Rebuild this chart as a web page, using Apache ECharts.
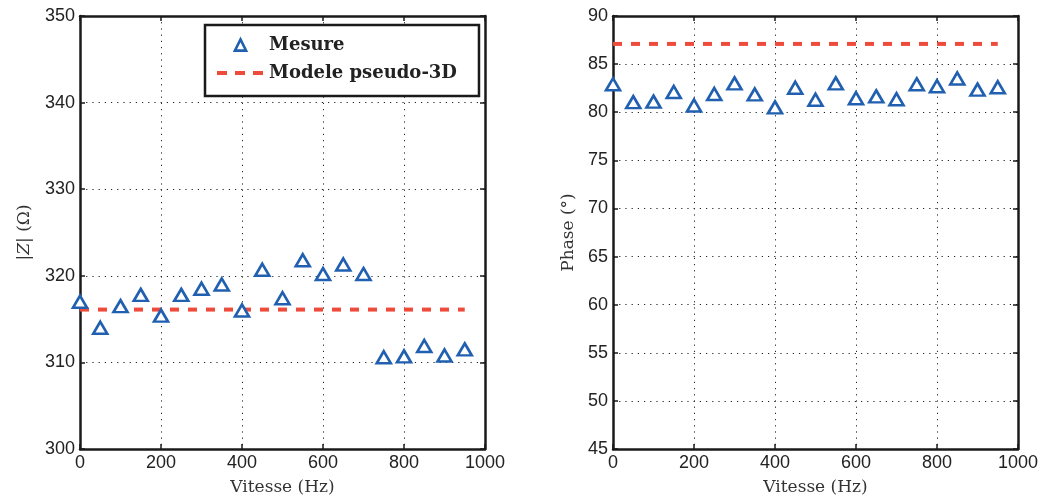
<!DOCTYPE html>
<html><head><meta charset="utf-8">
<script src="https://cdn.jsdelivr.net/npm/echarts@6/dist/echarts.min.js"></script>
<style>html,body{margin:0;padding:0;background:#fff}#c{width:1048px;height:501px}</style>
</head><body><div id="c"></div>
<script>
const freq = [0,50,100,150,200,250,300,350,400,450,500,550,600,650,700,750,800,850,900,950];
const zMesure = [317.0,314.0,316.5,317.8,315.4,317.8,318.5,319.0,316.0,320.7,317.4,321.8,320.2,321.3,320.2,310.6,310.7,311.9,310.8,311.5];
const zModele = 316.1;
const phaseMesure = [82.9,81.05,81.1,82.1,80.7,81.9,83.0,81.85,80.5,82.55,81.3,83.0,81.45,81.65,81.35,82.9,82.7,83.5,82.35,82.6];
const phaseModele = 87.1;
const modeleX = [0, 950];
const xTitle = 'Vitesse (Hz)';

const blue = '#2160b0', red = '#ef4b3c';
const serif = '"DejaVu Serif", "Liberation Serif", serif';
const sans = '"Liberation Sans", Arial, sans-serif';

function pairs(xs, ys){ return xs.map((x,i)=>[x, ys[i]]); }
function flat(xs, v){ return xs.map(x=>[x, v]); }

const gridLine = {show:true, lineStyle:{color:'#222', width:1, type:[1.2,5]}};
function xAx(g){
  return [{
    type:'value', gridIndex:g, min:0, max:1000, interval:200, position:'bottom',
    axisLine:{show:true, onZero:false, lineStyle:{color:'#1a1a1a', width:2.5}},
    axisTick:{show:true, inside:true, length:5, lineStyle:{color:'#1a1a1a', width:1.5}},
    axisLabel:{color:'#222', fontFamily:sans, fontSize:18, margin:5, formatter:v=>String(v)},
    splitLine:gridLine,
    name:xTitle, nameLocation:'middle', nameGap:30,
    nameTextStyle:{fontFamily:serif, fontSize:17, color:'#333'}
  },{
    type:'value', gridIndex:g, min:0, max:1000, interval:200, position:'top',
    axisLine:{show:true, onZero:false, lineStyle:{color:'#1a1a1a', width:2.5}},
    axisTick:{show:true, inside:true, length:5, lineStyle:{color:'#1a1a1a', width:1.5}},
    axisLabel:{show:false}, splitLine:{show:false}
  }];
}
function yAx(g, min, max, interval, name){
  return [{
    type:'value', gridIndex:g, min:min, max:max, interval:interval, position:'left',
    axisLine:{show:true, onZero:false, lineStyle:{color:'#1a1a1a', width:2.5}},
    axisTick:{show:true, inside:true, length:5, lineStyle:{color:'#1a1a1a', width:1.5}},
    axisLabel:{color:'#222', fontFamily:sans, fontSize:18, margin:5, formatter:v=>String(v)},
    splitLine:gridLine,
    name:name, nameLocation:'middle', nameRotate:90, nameGap: g===0 ? 47 : 36,
    nameTextStyle:{fontFamily:serif, fontSize:17, color:'#333',
      rich:{z:{fontFamily:serif, fontSize:17, fontStyle:'italic', color:'#333'}}}
  },{
    type:'value', gridIndex:g, min:min, max:max, interval:interval, position:'right',
    axisLine:{show:true, onZero:false, lineStyle:{color:'#1a1a1a', width:2.5}},
    axisTick:{show:true, inside:true, length:5, lineStyle:{color:'#1a1a1a', width:1.5}},
    axisLabel:{show:false}, splitLine:{show:false}
  }];
}

const chart = echarts.init(document.getElementById('c'), null, {renderer:'canvas'});
chart.setOption({
  animation:false,
  backgroundColor:'#fff',
  grid:[
    {left:80, width:405, top:16, bottom:51.5},
    {left:613, width:405, top:16, bottom:51.5}
  ],
  xAxis:[...xAx(0), ...xAx(1)],
  yAxis:[...yAx(0,300,350,10,'|{z|Z}| (Ω)'), ...yAx(1,45,90,5,'Phase (°)')],
  legend:{
    left:205, top:25, orient:'vertical',
    backgroundColor:'#fff', borderColor:'#1a1a1a', borderWidth:2.5, borderRadius:0,
    padding:[10,22,13,10], itemGap:8, itemWidth:47, itemHeight:14,
    textStyle:{fontFamily:serif, fontWeight:'bold', fontSize:18, color:'#222', lineHeight:20},
    data:[
      {name:'Mesure', itemStyle:{borderWidth:2.6}},
      {name:'Modele pseudo-3D', itemStyle:{opacity:0}, lineStyle:{width:4, type:[10,8], color:red}}
    ]
  },
  series:[
    {name:'Mesure', type:'line', xAxisIndex:0, yAxisIndex:0, data:pairs(freq,zMesure),
     symbol:'triangle', symbolSize:[14,12], showSymbol:true,
     lineStyle:{opacity:0, width:0},
     itemStyle:{color:'#fff', borderColor:blue, borderWidth:2.6}, z:3},
    {name:'Modele pseudo-3D', type:'line', xAxisIndex:0, yAxisIndex:0, data:flat(modeleX,zModele),
     symbol:'none', lineStyle:{color:red, width:4, type:[9,9]}, itemStyle:{color:red}, z:2},
    {name:'Mesure', type:'line', xAxisIndex:2, yAxisIndex:2, data:pairs(freq,phaseMesure),
     symbol:'triangle', symbolSize:[14,12], showSymbol:true,
     lineStyle:{opacity:0, width:0},
     itemStyle:{color:'#fff', borderColor:blue, borderWidth:2.6}, z:3},
    {name:'Modele pseudo-3D', type:'line', xAxisIndex:2, yAxisIndex:2, data:flat(modeleX,phaseModele),
     symbol:'none', lineStyle:{color:red, width:4, type:[9,9]}, itemStyle:{color:red}, z:2}
  ]
});
</script></body></html>
